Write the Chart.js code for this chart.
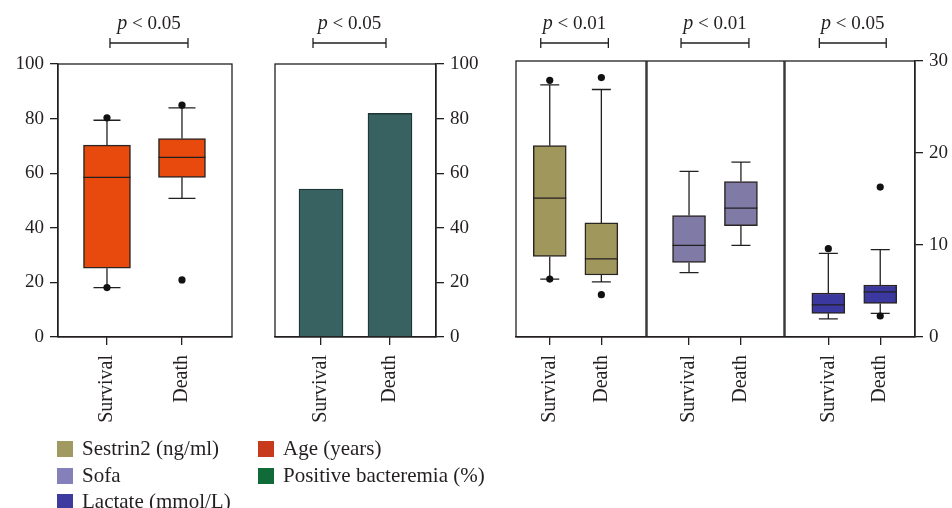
<!DOCTYPE html>
<html>
<head>
<meta charset="utf-8">
<script src="https://cdn.jsdelivr.net/npm/chart.js@4/dist/chart.umd.min.js"></script>
<style>
  body { margin: 0; background: #fff; }
  #wrap { position: relative; width: 952px; height: 508px; overflow: hidden; background: #fff; }
  canvas { position: absolute; top: 0; }
  .leg { position: absolute; font: 21px "Liberation Serif", serif; color: #231f20; white-space: nowrap; }
  .leg span { display: inline-block; width: 16px; height: 16px; margin-right: 9px; vertical-align: -2px; }
</style>
</head>
<body>
<div id="wrap">
  <canvas id="c1" width="240" height="437" style="left:0px"></canvas>
  <canvas id="c2" width="250" height="437" style="left:240px"></canvas>
  <canvas id="c3" width="150" height="437" style="left:500px"></canvas>
  <canvas id="c4" width="143" height="437" style="left:644px"></canvas>
  <canvas id="c5" width="171" height="437" style="left:781px"></canvas>
  <div class="leg" style="left:57px; top:436px"><span style="background:#a09a60"></span>Sestrin2 (ng/ml)</div>
  <div class="leg" style="left:57px; top:463px"><span style="background:#8580ba"></span>Sofa</div>
  <div class="leg" style="left:57px; top:489px"><span style="background:#3e3b9f"></span>Lactate (mmol/L)</div>
  <div class="leg" style="left:258px; top:436px"><span style="background:#c83a1c"></span>Age (years)</div>
  <div class="leg" style="left:258px; top:463px"><span style="background:#106b38"></span>Positive bacteremia (%)</div>
</div>
<script>
const groups = ["Survival", "Death"];

// Age (years)
const ageQ1 = [25.2, 58.5];
const ageMed = [58.5, 65.8];
const ageQ3 = [70.3, 72.7];
const ageLo = [18.1, 50.8];
const ageHi = [79.4, 83.9];
const ageOut = [[80.3, 18.1], [84.9, 20.9]];

// Positive bacteremia (%)
const bactPct = [54.2, 81.9];

// Sestrin2 (ng/ml)
const sesQ1 = [8.76, 6.74];
const sesMed = [15.1, 8.5];
const sesQ3 = [20.8, 12.4];
const sesLo = [6.3, 6.0];
const sesHi = [27.4, 26.9];
const sesOut = [[27.9, 6.3], [28.2, 4.6]];

// Sofa
const sofaQ1 = [8.1, 12.1];
const sofaMed = [9.96, 14.0];
const sofaQ3 = [13.2, 16.9];
const sofaLo = [7.0, 9.96];
const sofaHi = [18.0, 19.0];

// Lactate (mmol/L)
const lacQ1 = [2.57, 3.65];
const lacMed = [3.5, 4.9];
const lacQ3 = [4.78, 5.65];
const lacLo = [1.96, 2.57];
const lacHi = [9.1, 9.5];
const lacOut = [[9.6], [16.3, 2.28]];

const pLabels = ["0.05", "0.05", "0.01", "0.01", "0.05"];
const leftTicks = [0, 20, 40, 60, 80, 100];
const rightTicks = [0, 10, 20, 30];

const ink = "#231f20";
const tickFont = { family: "Liberation Serif", size: 19 };
const catFont = { family: "Liberation Serif", size: 20 };

// frame + significance bracket + whiskers/median
const boxExtras = {
  id: "boxExtras",
  beforeDatasetsDraw(chart) {
    const o = chart.options.plugins.boxExtras;
    if (!o.hi) return;
    const ctx = chart.ctx, xs = chart.scales.x, ys = chart.scales.y;
    ctx.save();
    ctx.strokeStyle = ink;
    ctx.lineWidth = 1.3;
    o.hi.forEach((h, i) => {
      const x = xs.getPixelForValue(i + 1);
      const hw = o.cap / 2;
      ctx.beginPath();
      ctx.moveTo(x, ys.getPixelForValue(o.q3[i]));
      ctx.lineTo(x, ys.getPixelForValue(h));
      ctx.moveTo(x - hw, ys.getPixelForValue(h));
      ctx.lineTo(x + hw, ys.getPixelForValue(h));
      ctx.moveTo(x, ys.getPixelForValue(o.q1[i]));
      ctx.lineTo(x, ys.getPixelForValue(o.lo[i]));
      ctx.moveTo(x - hw, ys.getPixelForValue(o.lo[i]));
      ctx.lineTo(x + hw, ys.getPixelForValue(o.lo[i]));
      ctx.stroke();
    });
    ctx.restore();
  },
  afterDatasetsDraw(chart) {
    const o = chart.options.plugins.boxExtras;
    const ctx = chart.ctx, xs = chart.scales.x, ys = chart.scales.y;
    const a = chart.chartArea;
    ctx.save();
    ctx.strokeStyle = ink;
    ctx.lineWidth = 1.3;
    if (o.med) {
      o.med.forEach((m, i) => {
        const x = xs.getPixelForValue(i + 1);
        const y = ys.getPixelForValue(m);
        ctx.beginPath();
        ctx.moveTo(x - o.bar / 2, y);
        ctx.lineTo(x + o.bar / 2, y);
        ctx.stroke();
      });
    }
    ctx.strokeRect(a.left, a.top, a.right - a.left, a.bottom - a.top);
    // bracket
    const x1 = xs.getPixelForValue(1) + o.bOff[0], x2 = xs.getPixelForValue(2) + o.bOff[1];
    ctx.beginPath();
    ctx.moveTo(x1, 43); ctx.lineTo(x2, 43);
    ctx.moveTo(x1, 38); ctx.lineTo(x1, 48);
    ctx.moveTo(x2, 38); ctx.lineTo(x2, 48);
    ctx.stroke();
    ctx.fillStyle = ink;
    ctx.textBaseline = "alphabetic";
    ctx.font = "italic 20px 'Liberation Serif'";
    const pw = ctx.measureText("p").width;
    ctx.font = "19px 'Liberation Serif'";
    const rest = " < " + o.p;
    const rw = ctx.measureText(rest).width;
    const sx = (x1 + x2) / 2 - (pw + rw) / 2;
    ctx.font = "italic 20px 'Liberation Serif'";
    ctx.fillText("p", sx, 29);
    ctx.font = "19px 'Liberation Serif'";
    ctx.fillText(rest, sx + pw, 29);
    ctx.restore();
  }
};

function makeChart(id, o) {
  const yTicks = o.max === 100 ? leftTicks : rightTicks;
  return new Chart(document.getElementById(id), {
    type: "bar",
    data: { datasets: o.datasets },
    plugins: [boxExtras],
    options: {
      responsive: false,
      animation: false,
      layout: { padding: { top: o.top, left: o.padL, right: o.padR, bottom: 0 } },
      plugins: { legend: { display: false }, tooltip: { enabled: false }, boxExtras: o.extras },
      scales: {
        x: {
          type: "linear", min: o.xmin, max: o.xmax, offset: false,
          afterBuildTicks: s => { s.ticks = groups.map((g, i) => ({ value: i + 1 })); },
          afterFit: s => { s.height = 100; },
          ticks: { callback: v => groups[v - 1], minRotation: 90, maxRotation: 90, autoSkip: false, font: catFont, color: ink, padding: 10 },
          grid: { offset: false, drawOnChartArea: false, tickLength: 8, color: ink, lineWidth: 1.3 },
          border: { color: ink, width: 1.3 }
        },
        y: {
          display: o.showY, position: o.side, min: 0, max: o.max,
          afterBuildTicks: s => { s.ticks = yTicks.map(v => ({ value: v })); },
          afterFit: s => { s.width = o.yW; },
          ticks: { font: tickFont, color: ink, padding: 6 },
          grid: { drawOnChartArea: false, tickLength: 8, color: ink, lineWidth: 1.3 },
          border: { color: ink, width: 1.3 }
        }
      }
    }
  });
}

function boxSets(q1, q3, out, color, bar) {
  const sets = [{
    data: q1.map((v, i) => ({ x: i + 1, y: [v, q3[i]] })),
    backgroundColor: color, borderColor: "#2b2522", borderWidth: 1.5, borderSkipped: false,
    barThickness: bar, order: 2
  }];
  if (out) {
    sets.push({
      type: "scatter",
      data: out.flatMap((arr, i) => arr.map(v => ({ x: i + 1, y: v }))),
      pointRadius: 3.6, backgroundColor: "#111", borderWidth: 0, order: 0
    });
  }
  return sets;
}

makeChart("c1", {
  datasets: boxSets(ageQ1, ageQ3, ageOut, "#e84a0e", 47),
  extras: { q1: ageQ1, q3: ageQ3, lo: ageLo, hi: ageHi, med: ageMed, cap: 27, bar: 47, p: pLabels[0], bOff: [3, 6] },
  top: 64, padL: 0, padR: 8, yW: 58, side: "left", showY: true, max: 100, xmin: 0.347, xmax: 2.667
});

makeChart("c2", {
  datasets: [{
    data: bactPct.map((v, i) => ({ x: i + 1, y: v })),
    backgroundColor: "#386262", borderColor: "#1e3535", borderWidth: 1.3, barThickness: 44
  }],
  extras: { p: pLabels[1], bOff: [-8, -4] },
  top: 64, padL: 35, padR: 0, yW: 54, side: "right", showY: true, max: 100, xmin: 0.333, xmax: 2.667
});

makeChart("c3", {
  datasets: boxSets(sesQ1, sesQ3, sesOut, "#a0975d", 33),
  extras: { q1: sesQ1, q3: sesQ3, lo: sesLo, hi: sesHi, med: sesMed, cap: 19, bar: 33, p: pLabels[2], bOff: [-9, 7] },
  top: 61, padL: 16, padR: 3, yW: 0, side: "right", showY: false, max: 30, xmin: 0.346, xmax: 2.865
});

makeChart("c4", {
  datasets: boxSets(sofaQ1, sofaQ3, null, "#7f7aa6", 33),
  extras: { q1: sofaQ1, q3: sofaQ3, lo: sofaLo, hi: sofaHi, med: sofaMed, cap: 19, bar: 33, p: pLabels[3], bOff: [-8, 8] },
  top: 61, padL: 3, padR: 3, yW: 0, side: "right", showY: false, max: 30, xmin: 0.19, xmax: 2.83
});

makeChart("c5", {
  datasets: boxSets(lacQ1, lacQ3, lacOut, "#3b39a0", 33),
  extras: { q1: lacQ1, q3: lacQ3, lo: lacLo, hi: lacHi, med: lacMed, cap: 19, bar: 33, p: pLabels[4], bOff: [-9, 6] },
  top: 61, padL: 3, padR: 0, yW: 37, side: "right", showY: true, max: 30, xmin: 0.165, xmax: 2.67
});
</script>
</body>
</html>
